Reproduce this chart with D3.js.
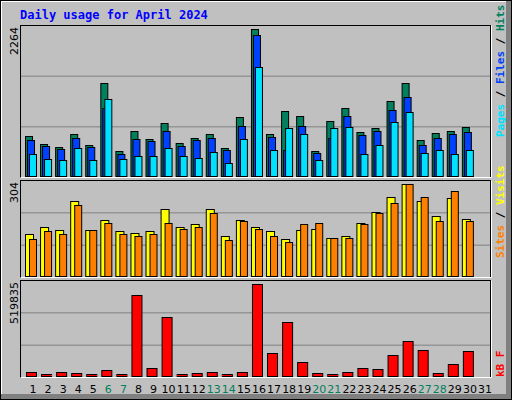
<!DOCTYPE html>
<html><head><meta charset="utf-8">
<script src="https://cdn.jsdelivr.net/npm/d3@7"></script>
<style>body{margin:0;background:#fff}</style></head>
<body><svg id="c" width="512" height="400"></svg>
<script>
const days = d3.range(1, 32);
const weekends = [6,7,13,14,20,21,27,28];
const hits  = [627,505,459,658,490,1438,398,704,581,826,520,597,658,444,918,2264,658,1010,933,398,857,1056,689,750,1163,1438,566,673,704,765,0];
const files = [566,474,428,597,459,1056,352,581,551,704,474,566,597,413,780,2173,612,413,780,367,597,933,643,704,1025,1224,490,597,658,689,0];
const pages = [352,275,260,444,260,1193,275,321,321,444,321,291,383,214,581,1683,413,750,658,260,750,765,352,490,842,995,367,413,352,413,0];
const sites = [142,165,155,248,155,185,149,145,149,221,162,172,221,135,185,165,149,125,155,158,129,135,178,211,261,304,248,198,257,191,0];
const visits= [125,152,142,234,155,175,142,135,142,175,158,162,208,122,182,158,135,116,172,175,129,129,172,208,241,304,261,182,280,182,0];
const kbytes= [26000,15000,26000,21000,15000,38000,15000,456000,49000,337000,15000,21000,26000,15000,26000,519835,134000,309000,83000,21000,15000,26000,49000,43000,122000,201000,151000,21000,72000,145000,0];

const svg = d3.select("#c");
// outer frame
svg.append("rect").attr("x",0).attr("y",0).attr("width",512).attr("height",400).attr("fill","#000");
svg.append("rect").attr("x",1).attr("y",1).attr("width",510).attr("height",398).attr("fill","#808080");
svg.append("rect").attr("x",1).attr("y",1).attr("width",505).attr("height",393).attr("fill","#fff");
svg.append("rect").attr("x",2).attr("y",2).attr("width",504).attr("height",392).attr("fill","#C0C0C0");

svg.append("text").attr("x",20).attr("y",19).text("Daily usage for April 2024")
  .attr("fill","#0000FF").attr("font-family","DejaVu Sans Mono").attr("font-weight","bold").attr("font-size",12);

const x = d3.scaleBand().domain(days).range([20.5, 487.5]).padding(0);
const panels = [
  {top:25, bot:177, max:2264, label:"2264"},
  {top:180, bot:277, max:304, label:"304"},
  {top:280, bot:377, max:519835, label:"519835"}
];
panels.forEach(p=>{
  svg.append("rect").attr("x",20.5).attr("y",p.top+0.5).attr("width",470).attr("height",p.bot-p.top).attr("fill","none").attr("stroke","#000");
  svg.append("path").attr("d",`M491.5,${p.top+0.5}V${p.bot+0.5}H20.5`).attr("stroke","#fff").attr("fill","none");
  const h=(p.bot-p.top)/3;
  [1,2].forEach(k=>svg.append("line").attr("x1",21).attr("x2",490).attr("y1",p.top+h*k+0.5).attr("y2",p.top+h*k+0.5).attr("stroke","#808080"));
  svg.append("text").attr("transform",`translate(18,${p.top+2}) rotate(-90)`).attr("text-anchor","end")
    .attr("font-family","DejaVu Sans").attr("font-size",11).attr("fill","#000").text(p.label);
});
const y1 = d3.scaleLinear().domain([0,2264]).range([177,29]);
const y2 = d3.scaleLinear().domain([0,304]).range([277,184]);
const y3 = d3.scaleLinear().domain([0,519835]).range([377,284]);

function bars(data, y, off, w, color){
  svg.append("g").selectAll("rect").data(data.map((v,i)=>({v,d:days[i]})).filter(o=>o.v>0)).join("rect")
    .attr("x",o=>x(o.d)+off+0.5).attr("y",o=>Math.round(y(o.v))+0.5)
    .attr("width",w).attr("height",o=>Math.max(0,y(0)-Math.round(y(o.v))-1))
    .attr("fill",color).attr("stroke","#000");
}
bars(hits,y1,4.5,7,"#00805C");
bars(files,y1,6.5,7,"#0040FF");
bars(pages,y1,8.5,7,"#00E0FF");
bars(sites,y2,4.5,8,"#FFFF00");
bars(visits,y2,8.5,7,"#FF8000");
bars(kbytes,y3,5.5,10,"#FF0000");

svg.append("g").selectAll("text").data(days).join("text")
  .attr("x",d=>x(d)+x.bandwidth()/2+5).attr("y",393).attr("text-anchor","middle")
  .attr("font-family","DejaVu Sans").attr("font-size",11)
  .attr("fill",d=>weekends.includes(d)?"#00805C":"#000").text(d=>d);

function rlabel(y, parts){
  const t=svg.append("text").attr("transform",`translate(504,${y}) rotate(-90)`)
   .attr("font-family","DejaVu Sans Mono").attr("font-size",11).attr("font-weight","bold");
  parts.forEach(([s,c])=>t.append("tspan").attr("fill",c).text(s));
}
rlabel(137,[["Pages","#00E0FF"],[" / ","#000"],["Files","#0040FF"],[" / ","#000"],["Hits","#00805C"]]);
rlabel(258,[["Sites","#FF8000"],[" / ","#000"],["Visits","#FFFF00"]]);
rlabel(377,[["kB F","#FF0000"]]);
</script></body></html>
